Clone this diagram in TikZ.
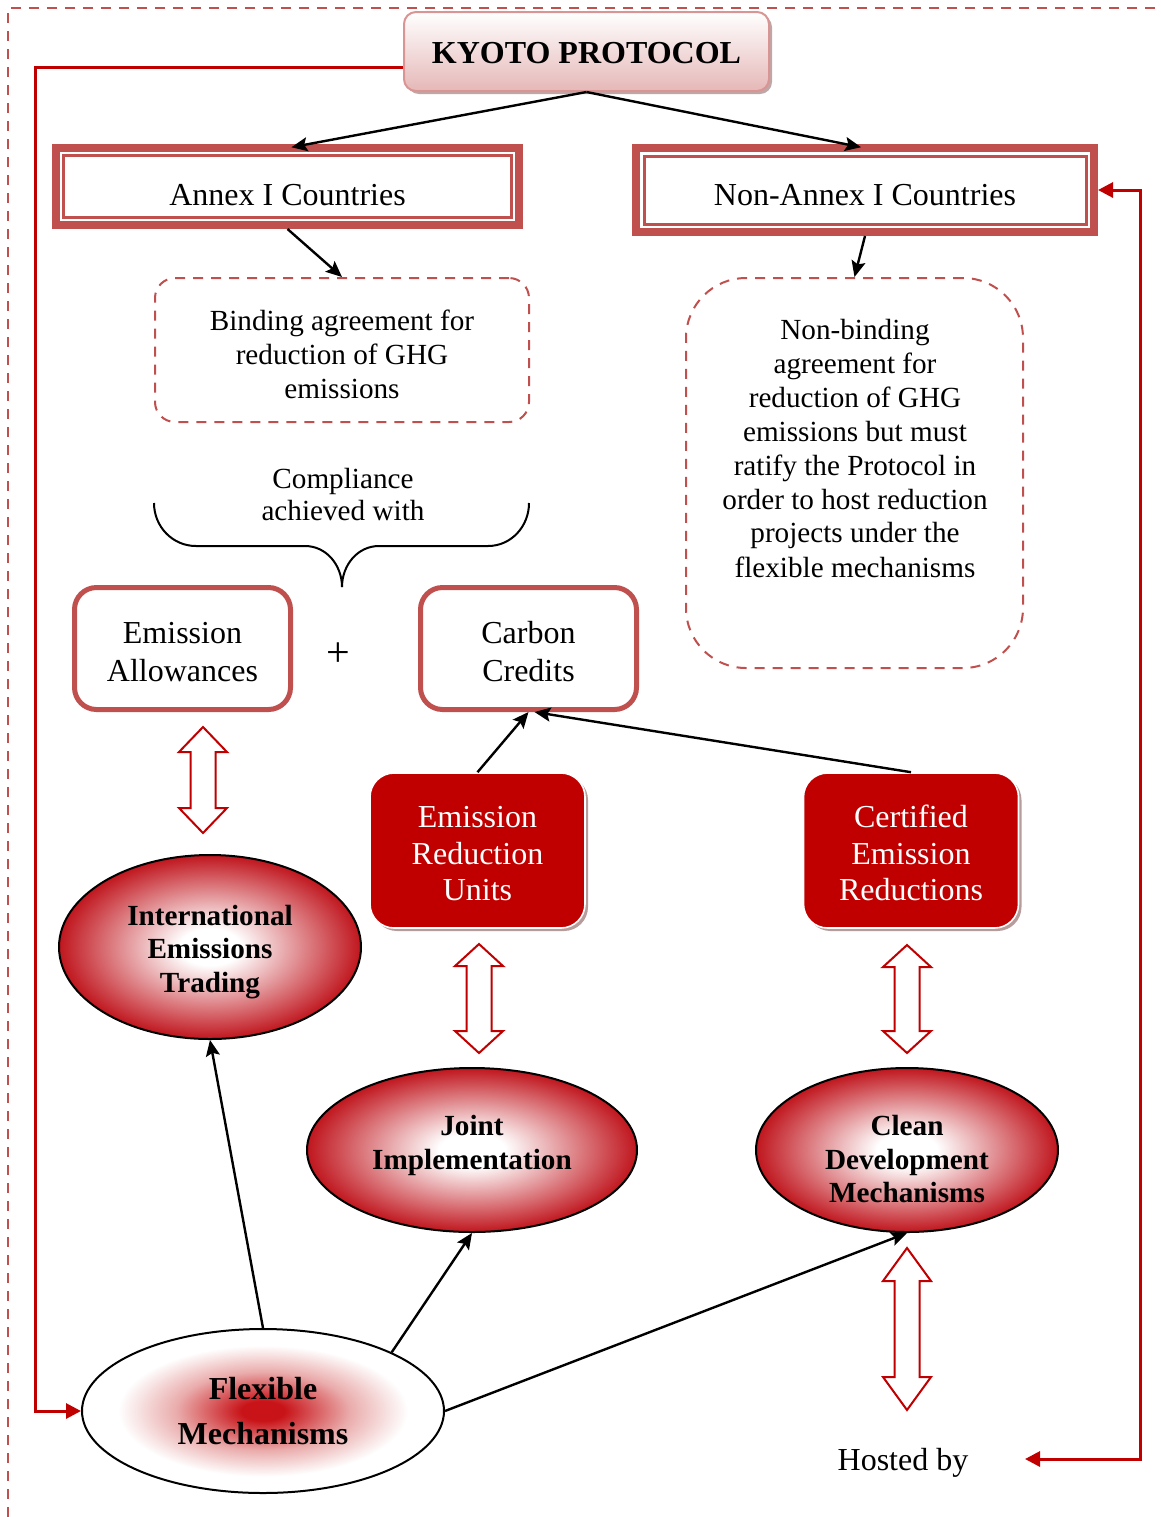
\documentclass[tikz,border=0pt]{standalone}
\usepackage{fontspec}
\setmainfont{Liberation Serif}
\usetikzlibrary{shapes.geometric,arrows.meta,shadows,calc}
\definecolor{accRed}{RGB}{192,80,77}
\definecolor{darkRed}{RGB}{192,0,0}
\definecolor{kyPink}{RGB}{229,184,183}
\definecolor{kyEdge}{RGB}{217,149,148}
\definecolor{shadowC}{RGB}{175,145,145}
\definecolor{ellEdge}{RGB}{192,22,30}
\definecolor{fmC}{RGB}{200,20,25}
\definecolor{fmP}{RGB}{234,172,172}
\pgfdeclareradialshading{ellshade}{\pgfpoint{0bp}{0bp}}{color(0bp)=(white); color(5bp)=(white); color(25bp)=(ellEdge); color(50bp)=(ellEdge)}
\pgfdeclareradialshading{fmshade}{\pgfpoint{0bp}{0bp}}{color(0bp)=(fmC); color(3bp)=(fmC); color(12bp)=(fmP); color(20bp)=(white); color(50bp)=(white)}
\newcommand\fntA{\fontsize{16}{19}\selectfont}
\newcommand\fntB{\fontsize{14.6}{17}\selectfont}
\newcommand\hollowdbl[4]{% cx, ytop, ybot, head length
  \draw[harr] (#1,#2) -- (#1+24,#2+#4) -- (#1+12.5,#2+#4) -- (#1+12.5,#3-#4) -- (#1+24,#3-#4) -- (#1,#3) -- (#1-24,#3-#4) -- (#1-12.5,#3-#4) -- (#1-12.5,#2+#4) -- (#1-24,#2+#4) -- cycle;}
\tikzset{
  borderdash/.style={draw=accRed, line width=1.3pt, dash pattern=on 5pt off 4pt},
  kybox/.style={rounded corners=6pt, draw=kyEdge, line width=1pt, top color=white, bottom color=kyPink,
    minimum width=182.5pt, minimum height=39.5pt, inner sep=0pt, text height=11.5pt, text depth=0pt,
    font=\fontsize{16}{19}\selectfont\bfseries,
    drop shadow={shadow xshift=1.5pt, shadow yshift=-1.5pt, fill=shadowC, opacity=0.8}},
  cbox/.style={draw=accRed, line width=4pt, inner sep=0pt, outer sep=0pt, font=\fntA},
  innerline/.style={draw=accRed, line width=1.5pt},
  dbox/.style={draw=accRed, line width=1pt, dash pattern=on 5pt off 4pt, rounded corners=10pt},
  rbox/.style={draw=accRed, line width=2.5pt, rounded corners=11pt, minimum width=108pt, minimum height=61pt,
    align=center, font=\fntA},
  unitbox/.style={fill=darkRed, draw=white, line width=0.8pt, rounded corners=12pt, minimum width=107.5pt,
    minimum height=77.5pt, text=white, align=center, font=\fontsize{16}{18.3}\selectfont,
    drop shadow={shadow xshift=1.5pt, shadow yshift=-1.5pt, fill=shadowC, opacity=0.9}},
  ell/.style={ellipse, draw=black, line width=1pt, shade, shading=ellshade, inner sep=0pt, align=center,
    font=\fontsize{14.6}{16.8}\selectfont\bfseries},
  fmell/.style={ellipse, draw=black, line width=1pt, shade, shading=fmshade, inner sep=0pt, align=center,
    font=\fontsize{16}{22.5}\selectfont\bfseries},
  conn/.style={-{Stealth[length=8pt,width=7pt,inset=1.5pt]}, line width=1.2pt, black},
  rconn/.style={darkRed, line width=1.5pt},
  rtip/.tip={Triangle[length=7.5pt,width=7.5pt]},
  harr/.style={draw=darkRed, fill=white, line width=1pt}
}
\begin{document}
\begin{tikzpicture}[x=0.5pt,y=-0.5pt]
\useasboundingbox (0,0) rectangle (1161,1517);
\draw[borderdash] (8,1517) -- (8,8) -- (1161,8);

% top
\node[kybox] (ky) at (586.5,51.5) {KYOTO PROTOCOL};
\node[cbox, minimum width=231.5pt, minimum height=38.5pt, text height=18.5pt, text depth=0pt] (an) at (287.5,186.5) {Annex I Countries};
\draw[innerline] ([shift={(7.5,7.5)}]an.north west) rectangle ([shift={(-7.5,-7.5)}]an.south east);
\node[cbox, minimum width=229pt, minimum height=42pt, text height=15pt, text depth=0pt] (na) at (865,190) {Non-Annex I Countries};
\draw[innerline] ([shift={(8,8)}]na.north west) rectangle ([shift={(-8,-8)}]na.south east);

% dashed boxes
\node[dbox, minimum width=187pt, minimum height=72pt, align=center, font=\fntB] (d1) at (342,350)
  {\rule{0pt}{15pt}Binding agreement for\\reduction of GHG\\emissions};
\node[dbox, rounded corners=30pt, minimum width=168.5pt, minimum height=195pt] (d2) at (854.5,473) {};
\node[align=center, font=\fntB] (d2t) at (855,448)
  {Non-binding\\agreement for\\reduction of GHG\\emissions but must\\ratify the Protocol in\\order to host reduction\\projects under the\\flexible mechanisms};

% compliance and brace
\node[align=center, font=\fontsize{14.6}{16.5}\selectfont] (cp) at (343,494.5) {Compliance\\achieved with};
\draw[line width=1pt] (154,503) to[out=-90,in=180] (196,546) -- (305,546) to[out=0,in=90] (342,587);
\draw[line width=1pt] (529,503) to[out=-90,in=0] (488,546) -- (379,546) to[out=180,in=90] (342,587);

% allowances and credits
\node[rbox] (ea) at (182.5,648.5) {\rule{0pt}{14pt}Emission\\Allowances};
\node[rbox] (cc) at (528.5,648.5) {\rule{0pt}{14pt}Carbon\\Credits};
\node[font=\fontsize{21}{24}\selectfont] (pl) at (338,655) {+};

% units
\node[unitbox] (eru) at (477.5,850.5) {\rule{0pt}{14pt}Emission\\Reduction\\Units};
\node[unitbox] (cer) at (911,850.5) {\rule{0pt}{14pt}Certified\\Emission\\Reductions};

% ellipses
\node[ell, minimum width=151pt, minimum height=92pt] (iet) at (210,947) {\rule{0pt}{15pt}International\\Emissions\\Trading};
\node[ell, minimum width=165pt, minimum height=82pt] (ji) at (472,1150) {Joint\\Implementation\rule[-7.7pt]{0pt}{7.7pt}};
\node[ell, minimum width=151pt, minimum height=82pt] (cdm) at (907,1150) {\rule{0pt}{19.5pt}Clean\\Development\\Mechanisms};
\node[fmell, minimum width=181pt, minimum height=82pt] (fm) at (263,1411) {Flexible\\Mechanisms};

% hosted by
\node[font=\fntA] (hb) at (903,1463) {Hosted by};
\coordinate (hbtip) at (1025,1459);

% hollow double arrows
\hollowdbl{203}{727}{833}{25}
\hollowdbl{479}{944}{1053}{22}
\hollowdbl{907}{945}{1053}{22}
\hollowdbl{907}{1248}{1410}{33}

% black connectors
\draw[conn, shorten >=2pt] (ky.south) -- (an.north);
\draw[conn, shorten >=2pt] (ky.south) -- (na.north);
\draw[conn] ([yshift=-2pt]an.south) -- (d1.north);
\draw[conn] ([yshift=-2pt]na.south) -- (d2.north);
\draw[conn] (eru.north) -- (cc.south);
\draw[conn] (cer.north) -- ([xshift=3pt]cc.south);
\draw[conn] (fm.north) -- (iet.south);
\draw[conn] (fm.north east) -- (ji.south);
\draw[conn] (fm.east) -- (cdm.south);

% red connectors
\draw[rconn, -rtip] ([yshift=-8pt]ky.west) -- ++(-368,0) |- (fm.west);
\draw[rconn, rtip-rtip] ([xshift=2pt]na.east) -- ++(42,0) |- (hbtip);
\end{tikzpicture}
\end{document}
